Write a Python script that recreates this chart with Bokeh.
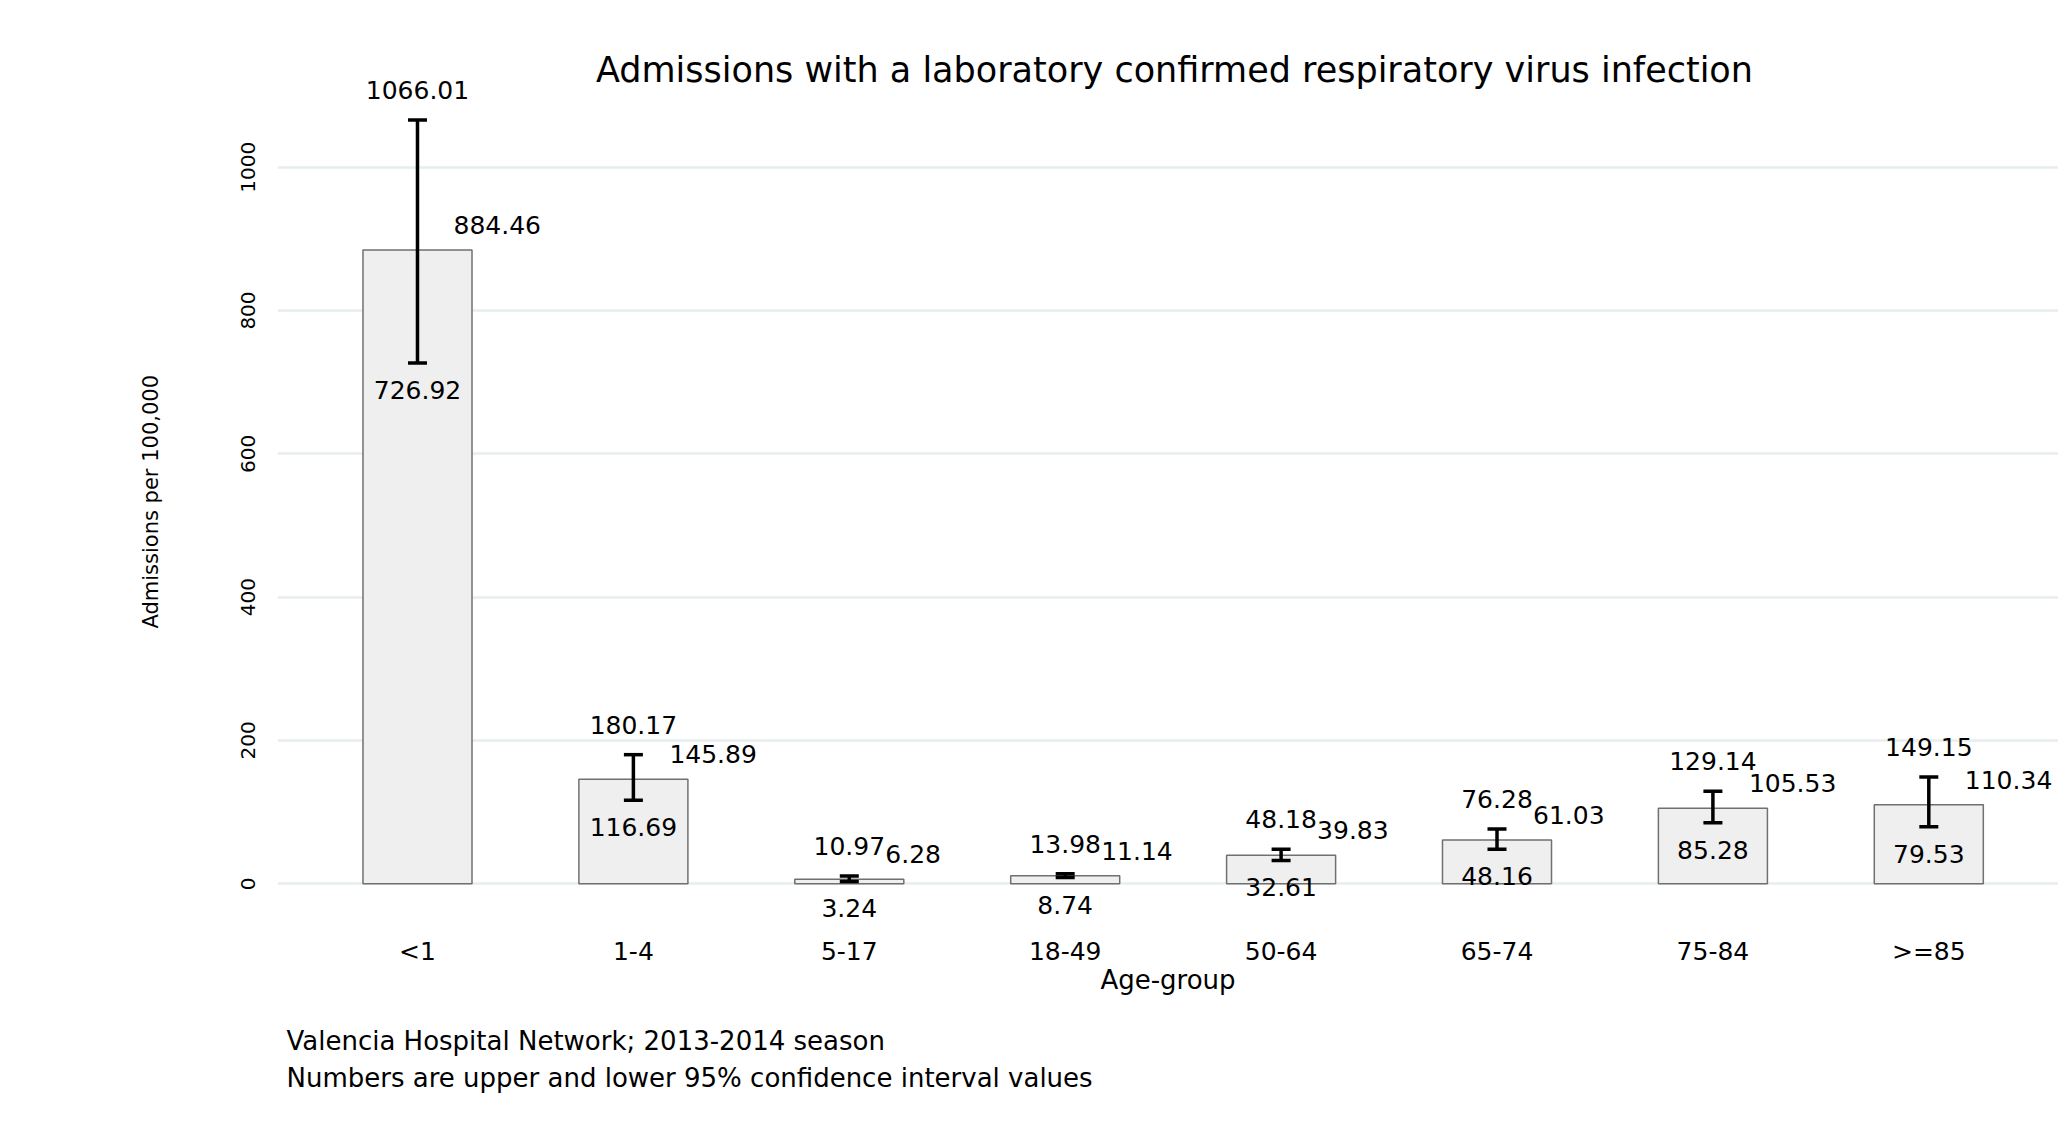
import math
from bokeh.plotting import figure
from bokeh.models import ColumnDataSource, Range1d, FixedTicker, Label, Title
from bokeh.core.properties import value
from bokeh.embed import file_html
from bokeh.resources import INLINE

# ---- data ----
categories = ["<1", "1-4", "5-17", "18-49", "50-64", "65-74", "75-84", ">=85"]
estimate = [884.46, 145.89, 6.28, 11.14, 39.83, 61.03, 105.53, 110.34]
upper_ci = [1066.01, 180.17, 10.97, 13.98, 48.18, 76.28, 129.14, 149.15]
lower_ci = [726.92, 116.69, 3.24, 8.74, 32.61, 48.16, 85.28, 79.53]
y_ticks = [0, 200, 400, 600, 800, 1000]

title_text = "Admissions with a laboratory confirmed respiratory virus infection"
x_title = "Age-group"
y_title = "Admissions per 100,000"
note1 = "Valencia Hospital Network; 2013-2014 season"
note2 = "Numbers are upper and lower 95% confidence interval values"

FONT = "DejaVu Sans"
xs = list(range(len(categories)))
cap = 0.044

src = ColumnDataSource(dict(
    x=xs, est=estimate, hi=upper_ci, lo=lower_ci,
    x0=[v - cap for v in xs], x1=[v + cap for v in xs],
    est_t=[f"{v:.2f}" for v in estimate],
    hi_t=[f"{v:.2f}" for v in upper_ci],
    lo_t=[f"{v:.2f}" for v in lower_ci],
))

p = figure(width=2058, height=1116, output_backend="svg", toolbar_location=None,
           x_range=Range1d(-0.6484, 7.6007), y_range=Range1d(-62.4, 1204.7),
           min_border_left=277, min_border_right=0, min_border_top=20,
           min_border_bottom=188)
p.outline_line_color = None
p.background_fill_color = "white"
p.border_fill_color = "white"

# axes
xa = p.xaxis[0]
xa.ticker = FixedTicker(ticks=xs)
xa.major_label_overrides = {i: c for i, c in zip(xs, categories)}
xa.axis_line_color = None
xa.major_tick_out = 0
xa.major_tick_in = 0
xa.minor_tick_out = 0
xa.minor_tick_in = 0
xa.major_label_text_font = FONT
xa.major_label_text_font_size = "25px"
xa.major_label_text_color = "black"
xa.major_label_standoff = 8
xa.axis_label = x_title
xa.axis_label_text_font = FONT
xa.axis_label_text_font_size = "26px"
xa.axis_label_text_font_style = "normal"
xa.axis_label_text_color = "black"
xa.axis_label_standoff = -4

ya = p.yaxis[0]
ya.ticker = FixedTicker(ticks=y_ticks)
ya.axis_line_color = None
ya.major_tick_out = 0
ya.major_tick_in = 0
ya.minor_tick_out = 0
ya.minor_tick_in = 0
ya.major_label_orientation = "vertical"
ya.major_label_text_font = FONT
ya.major_label_text_font_size = "20px"
ya.major_label_text_color = "black"
ya.major_label_standoff = 22

p.xgrid.visible = False
p.ygrid.grid_line_color = "#e6eef0"
p.ygrid.grid_line_width = 2.5

# bars
p.vbar(x="x", top="est", bottom=0, width=0.505, source=src,
       fill_color="#efefef", line_color="#707070", line_width=1.5)

# error bars
p.segment(x0="x", y0="lo", x1="x", y1="hi", source=src, line_color="black", line_width=3.5)
p.segment(x0="x0", y0="hi", x1="x1", y1="hi", source=src, line_color="black", line_width=3.5)
p.segment(x0="x0", y0="lo", x1="x1", y1="lo", source=src, line_color="black", line_width=3.5)

# value labels
common = dict(source=src, text_font=value(FONT), text_font_size="25px", text_color="black",
              text_baseline="middle")
p.text(x="x", y="hi", text="hi_t", text_align="center", y_offset=-30, **common)
p.text(x="x", y="lo", text="lo_t", text_align="center", y_offset=27, **common)
p.text(x="x", y="est", text="est_t", text_align="left", x_offset=36, y_offset=-25, **common)

# chart title (inside the frame area)
p.add_layout(Label(x=3.506, y=1136.3, text=title_text, text_align="center",
                   text_baseline="middle", text_font=FONT, text_font_size="35px",
                   text_color="black"))

# y-axis title as a side title
p.add_layout(Title(text=y_title, align="left", offset=300, standoff=152,
                   text_font=FONT, text_font_size="21px", text_font_style="normal",
                   text_color="black"), "left")

# notes below (a thin empty spacer first)
p.add_layout(Title(text=" ", standoff=20, text_font_size="1px"), "below")
p.add_layout(Title(text=note1, align="left", offset=9, standoff=6,
                   text_font=FONT, text_font_size="26px", text_font_style="normal",
                   text_color="black"), "below")
p.add_layout(Title(text=note2, align="left", offset=9, standoff=5,
                   text_font=FONT, text_font_size="26px", text_font_style="normal",
                   text_color="black"), "below")

open("out.html", "w").write(file_html(p, INLINE))
